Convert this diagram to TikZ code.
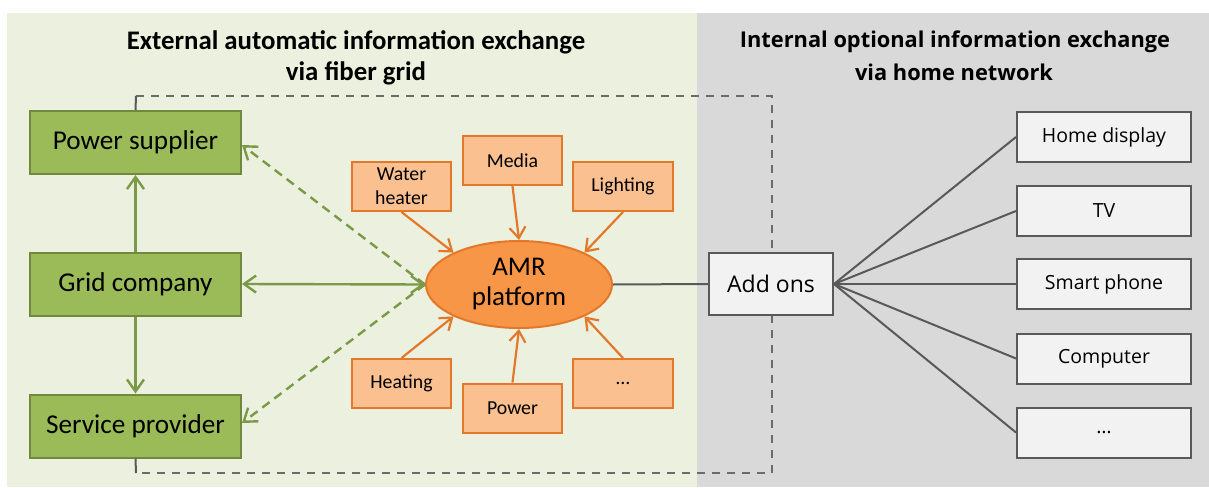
\documentclass[tikz,border=0pt]{standalone}
\usepackage{fontspec}
\setmainfont{Carlito}
\newfontfamily\osans{Open Sans}
\usetikzlibrary{arrows.meta,shapes.geometric}
\definecolor{bggreen}{HTML}{EBF1DE}
\definecolor{bggray}{HTML}{D9D9D9}
\definecolor{gfill}{HTML}{9BBB59}
\definecolor{gline}{HTML}{71893F}
\definecolor{garrow}{HTML}{7A9A47}
\definecolor{ofill}{HTML}{FAC090}
\definecolor{oline}{HTML}{E4782A}
\definecolor{amrfill}{HTML}{F79646}
\definecolor{wfill}{HTML}{F2F2F2}
\definecolor{dgray}{HTML}{595959}
\definecolor{dashgray}{HTML}{6B6B6B}
\tikzset{
  x=1pt, y=-1pt,
  gbox/.style={draw=gline, line width=2pt, fill=gfill, minimum width=211pt, minimum height=63pt, inner sep=0pt, font=\fontsize{27.2}{31}\selectfont},
  obox/.style={draw=oline, line width=2pt, fill=ofill, minimum width=99pt, minimum height=49pt, inner sep=0pt, align=center, font=\fontsize{19.8}{24}\selectfont},
  wbox/.style={draw=dgray, line width=2pt, fill=wfill, minimum width=174pt, minimum height=50pt, inner sep=0pt, font=\osans\fontsize{19.5}{22}\selectfont},
  garr/.style={draw=garrow, line width=2.4pt, -{Straight Barb[length=12pt,width=17pt]}},
  gdarr/.style={draw=garrow, line width=2.4pt, dash pattern=on 9pt off 6pt, -{Straight Barb[length=12pt,width=17pt]}},
  oarr/.style={draw=oline, line width=2.2pt, -{Straight Barb[length=11pt,width=16pt]}},
  wline/.style={draw=dgray, line width=2pt},
  ttlL/.style={anchor=base, font=\bfseries\fontsize{26.8}{32}\selectfont},
  ttlR/.style={anchor=base, font=\osans\bfseries\fontsize{21.8}{32}\selectfont},
}
\begin{document}
\begin{tikzpicture}
\useasboundingbox (0,0) rectangle (1209,487);
\fill[white] (0,0) rectangle (1209,487);
\fill[bggreen] (7,13) rectangle (697,487);
\fill[bggray] (697,13) rectangle (1209,487);

% titles
\node[ttlL] (tl1) at (356,49) {External automatic information exchange};
\node[ttlL] (tl2) at (356,81) {via fiber grid};
\node[ttlR] (tr1) at (955,48) {Internal optional information exchange};
\node[ttlR] (tr2) at (954,81) {via home network};

% dashed frame
\coordinate (ftl) at (136,96);
\coordinate (ftr) at (772,96);
\coordinate (fbr) at (772,473);
\coordinate (fbl) at (136,473);
\draw[dashgray, line width=2.2pt, dash pattern=on 8pt off 7pt] (ftl) -- (ftr) -- (fbr) -- (fbl);

% green boxes
\node[gbox] (ps) at (135.5,142.5) {Power supplier};
\node[gbox] (gc) at (135.5,284) {Grid company};
\node[gbox] (sp) at (135.5,426) {Service provider};
\draw[dgray, line width=2pt] (ps.north) -- (ftl);
\draw[dgray, line width=2pt] (sp.south) -- (fbl);

% AMR
\node[ellipse, draw=oline, line width=2pt, fill=amrfill, minimum width=186pt, minimum height=87pt, inner sep=0pt, align=center, font=\fontsize{27}{30}\selectfont] (amr) at (519,284.5) {AMR\\platform};

% orange boxes
\node[obox] (wh) at (401.5,186.5) {Water\\heater};
\node[obox] (me) at (512.5,160.5) {Media};
\node[obox, minimum width=100pt] (li) at (623,186.5) {Lighting};
\node[obox] (he) at (401.5,383.5) {Heating};
\node[obox] (po) at (512.5,408) {Power};
\node[obox, minimum width=100pt] (ot) at (623,383.5) {\dots};

\draw[oarr] (wh.south) -- (amr.154);
\draw[oarr] (me.south) -- (amr.north);
\draw[oarr] (li.south) -- (amr.26);
\draw[oarr] (he.north) -- (amr.206);
\draw[oarr] (po.north) -- (amr.south);
\draw[oarr] (ot.north) -- (amr.334);

% green arrows
\draw[garr] (gc.north) -- (ps.south);
\draw[garr] (gc.south) -- (sp.north);
\draw[garr, {Straight Barb[length=12pt,width=17pt]}-{Straight Barb[length=12pt,width=17pt]}] (gc.east) -- (amr.west);
\draw[gdarr] (amr.west) -- ([yshift=-2.5pt]ps.east);
\draw[gdarr] (amr.west) -- ([yshift=3pt]sp.east);

% add ons
\node[wbox, minimum width=124pt, minimum height=62pt, font=\osans\fontsize{23}{26}\selectfont] (ao) at (771,284) {Add ons};
\draw[wline] (amr.east) -- (ao.west);

\node[wbox] (hd) at (1104,137) {Home display};
\node[wbox] (tv) at (1104,211) {TV};
\node[wbox] (sm) at (1104,284) {Smart phone};
\node[wbox] (co) at (1104,358.5) {Computer};
\node[wbox] (od) at (1104,432.5) {\dots};
\foreach \n in {hd,tv,sm,co,od} \draw[wline] (ao.east) -- (\n.west);
\end{tikzpicture}
\end{document}
